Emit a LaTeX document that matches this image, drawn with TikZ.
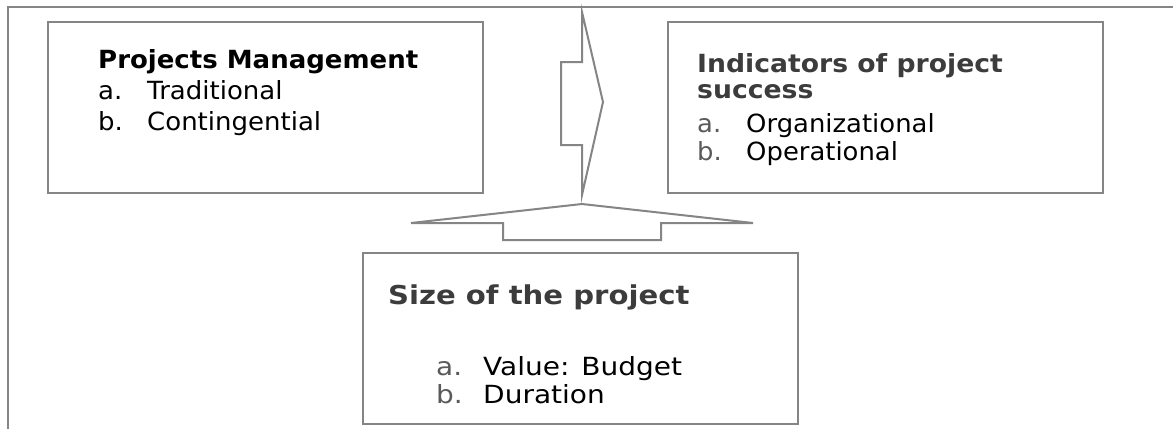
\documentclass[tikz,border=0pt]{standalone}
\usepackage{fontspec}
\setmainfont{DejaVu Sans}
\newfontfamily\tfont[FakeStretch=1.04]{DejaVu Sans}
\newfontfamily\rfont[FakeStretch=1.035]{DejaVu Sans}
\newfontfamily\hfont[FakeStretch=1.066]{DejaVu Sans}
\newfontfamily\vfont[FakeStretch=1.12]{DejaVu Sans}
\definecolor{linegray}{HTML}{858585}
\definecolor{titlegray}{HTML}{3C3C3C}
\definecolor{lettergray}{HTML}{5A5A5A}
\tikzset{
  box/.style={draw=linegray, line width=2pt, fill=white, inner sep=0pt,
    minimum width=435pt, minimum height=171pt},
  blockarrow/.style={draw=linegray, line width=2pt, fill=white, line join=miter},
  txt/.style={anchor=base west, inner sep=0pt, font=\fontsize{25}{30}\selectfont},
  ltxt/.style={txt, font=\fontsize{25}{30}\selectfont\tfont},
  rtxt/.style={txt, font=\fontsize{25}{30}\selectfont\rfont},
  htxt/.style={txt, text=titlegray, font=\fontsize{25}{30}\selectfont\hfont\bfseries},
  vtxt/.style={txt, font=\fontsize{25}{30}\selectfont\vfont},
}
\begin{document}
\begin{tikzpicture}[x=1pt,y=-1pt]
\useasboundingbox (0,0) rectangle (1173,429);
% outer frame (top and left sides)
\draw[draw=linegray, line width=2pt] (1173,7) -- (8,7) -- (8,429);
% boxes
\node[box] (pm) at (265.5,107.5) {};
\node[box] (ind) at (885.5,107.5) {};
\node[box] (size) at (580.5,338.5) {};
% right arrow
\draw[blockarrow] (561,62) -- (582,62) -- (582,12) -- (603,102) -- (582,195) -- (582,145) -- (561,145) -- cycle;
% up arrow
\draw[blockarrow] (503,240) -- (503,223) -- (411,223) -- (582,204) -- (753,223) -- (661,223) -- (661,240) -- cycle;
% left box text
\node[ltxt, font=\fontsize{25}{30}\selectfont\tfont\bfseries] (pmt) at (98,68) {Projects Management};
\node[ltxt] (pma) at (98,99) {a.};
\node[ltxt] (pmaw) at (147,99) {Traditional};
\node[ltxt] (pmb) at (98,130) {b.};
\node[ltxt] (pmbw) at (147,130) {Contingential};
% right box text
\node[htxt] (indt1) at (697,72) {Indicators of project};
\node[htxt] (indt2) at (697,98) {success};
\node[rtxt, text=lettergray] (inda) at (697,132) {a.};
\node[rtxt] (indaw) at (746,132) {Organizational};
\node[rtxt, text=lettergray] (indb) at (697,160) {b.};
\node[rtxt] (indbw) at (746,160) {Operational};
% bottom box text
\node[vtxt, text=titlegray, font=\fontsize{26}{31}\selectfont\vfont\bfseries] (sizet) at (388,304) {Size of the project};
\node[vtxt, text=lettergray] (sizea) at (436,375) {a.};
\node[vtxt] (sizeaw) at (483,375) {Value: Budget};
\node[vtxt, text=lettergray] (sizeb) at (436,403) {b.};
\node[vtxt] (sizebw) at (483,403) {Duration};
\end{tikzpicture}
\end{document}
